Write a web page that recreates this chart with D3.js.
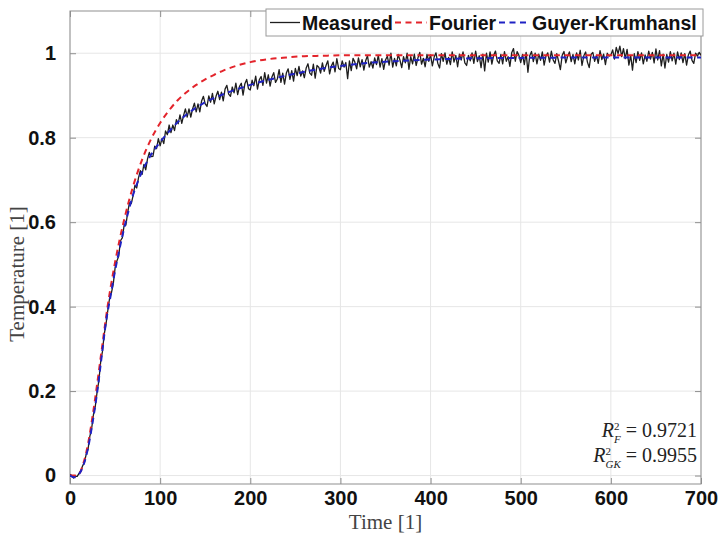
<!DOCTYPE html>
<html>
<head>
<meta charset="utf-8">
<script src="https://cdn.jsdelivr.net/npm/d3@7/dist/d3.min.js"></script>
<style>
  html, body { margin: 0; padding: 0; background: #fff; }
  svg { display: block; }
</style>
</head>
<body>
<div id="chart"></div>
<script>
// ---- data -------------------------------------------------------------
// Measured temperature, sampled every 2 time units from 0 to 700
const sampleStep = 2;
const measuredValues = [
  0.003, 0.000, -0.006, -0.002, -0.002, 0.005, 0.011, 0.023, 0.031, 0.051,
  0.062, 0.093, 0.111, 0.144, 0.163, 0.197, 0.224, 0.269, 0.294, 0.335,
  0.359, 0.392, 0.421, 0.433, 0.454, 0.491, 0.508, 0.519, 0.556, 0.563,
  0.592, 0.593, 0.623, 0.646, 0.644, 0.663, 0.687, 0.681, 0.705, 0.722,
  0.713, 0.737, 0.724, 0.750, 0.765, 0.755, 0.756, 0.780, 0.774, 0.798,
  0.781, 0.798, 0.786, 0.816, 0.807, 0.830, 0.812, 0.830, 0.817, 0.843,
  0.833, 0.854, 0.834, 0.853, 0.868, 0.849, 0.868, 0.849, 0.868, 0.882,
  0.861, 0.880, 0.861, 0.887, 0.898, 0.880, 0.874, 0.899, 0.884, 0.905,
  0.880, 0.898, 0.910, 0.890, 0.908, 0.887, 0.915, 0.924, 0.903, 0.898,
  0.920, 0.906, 0.929, 0.902, 0.921, 0.929, 0.901, 0.928, 0.938, 0.916,
  0.913, 0.936, 0.923, 0.946, 0.915, 0.937, 0.945, 0.924, 0.954, 0.929,
  0.949, 0.922, 0.944, 0.954, 0.931, 0.939, 0.961, 0.931, 0.953, 0.927,
  0.953, 0.963, 0.938, 0.959, 0.934, 0.964, 0.947, 0.969, 0.946, 0.958,
  0.942, 0.965, 0.975, 0.953, 0.948, 0.974, 0.941, 0.971, 0.967, 0.953,
  0.977, 0.957, 0.971, 0.982, 0.951, 0.970, 0.979, 0.956, 0.987, 0.964,
  0.961, 0.982, 0.967, 0.978, 0.940, 0.982, 0.959, 0.988, 0.979, 0.963,
  0.989, 0.968, 0.985, 0.960, 0.982, 0.994, 0.967, 0.980, 0.965, 0.989,
  0.973, 0.995, 0.967, 0.987, 0.962, 0.984, 0.993, 0.972, 1.000, 0.967,
  0.988, 0.970, 0.997, 0.984, 0.966, 0.992, 0.977, 1.000, 0.962, 0.992,
  0.975, 0.998, 0.971, 0.989, 1.002, 0.974, 0.988, 0.968, 0.997, 0.981,
  0.996, 0.970, 0.991, 1.001, 0.976, 0.965, 0.999, 0.981, 1.001, 0.974,
  0.990, 0.973, 1.003, 0.979, 0.995, 0.968, 0.998, 0.984, 1.003, 0.977,
  0.971, 0.995, 0.982, 1.001, 0.976, 1.005, 0.980, 0.994, 0.966, 0.998,
  0.958, 1.000, 0.979, 1.003, 0.974, 0.995, 1.005, 0.982, 0.976, 0.997,
  0.975, 1.004, 0.981, 0.992, 0.969, 1.001, 1.011, 0.981, 1.004, 0.995,
  0.978, 0.997, 0.973, 1.002, 0.955, 0.994, 1.004, 0.980, 1.000, 0.975,
  0.998, 0.983, 1.003, 0.972, 0.993, 1.001, 0.979, 1.005, 0.984, 0.976,
  0.999, 0.981, 0.961, 0.995, 1.004, 0.977, 0.992, 1.003, 0.980, 0.997,
  0.975, 1.001, 0.984, 1.007, 0.971, 0.994, 1.003, 0.979, 0.966, 0.997,
  1.002, 0.981, 0.995, 0.976, 1.006, 0.985, 0.998, 0.973, 1.000, 0.993,
  0.996, 1.008, 0.986, 1.014, 0.999, 1.017, 0.992, 1.011, 0.987, 1.009,
  0.972, 0.995, 0.960, 0.999, 0.978, 1.004, 0.983, 1.001, 0.975, 0.996,
  0.981, 1.005, 0.986, 1.002, 0.977, 1.010, 0.984, 1.006, 0.970, 0.998,
  0.965, 0.997, 0.979, 1.004, 0.982, 1.000, 0.974, 1.003, 0.985, 1.001,
  0.978, 0.999, 0.972, 0.996, 1.005, 0.983, 0.976, 1.000, 0.993, 1.002, 0.995
];
const measuredTime = d3.range(0, measuredValues.length).map(i => i * sampleStep);

// Fourier model fit
const fourierTime = [0, 5, 10, 15, 20, 25, 30, 35, 40, 45, 50, 55, 60, 70, 80, 90, 100,
  110, 120, 130, 140, 150, 160, 170, 180, 200, 220, 240, 260, 280, 300, 400, 500, 600, 700];
const fourierValues = [0, 0, 0.004, 0.03, 0.075, 0.14, 0.215, 0.295, 0.375, 0.445, 0.505,
  0.558, 0.605, 0.685, 0.748, 0.797, 0.835, 0.865, 0.890, 0.909, 0.925, 0.938, 0.949,
  0.959, 0.967, 0.979, 0.986, 0.990, 0.993, 0.994, 0.995, 0.995, 0.995, 0.995, 0.995];

// Guyer-Krumhansl model fit
const gkTime = [0, 5, 10, 15, 20, 25, 30, 35, 40, 45, 50, 55, 60, 65, 70, 75, 80, 90, 100,
  110, 120, 130, 140, 150, 160, 170, 180, 190, 200, 220, 240, 260, 280, 300, 330, 360,
  400, 450, 500, 600, 700];
const gkValues = [0, -0.004, 0.003, 0.025, 0.065, 0.125, 0.195, 0.28, 0.365, 0.425, 0.485,
  0.537, 0.585, 0.627, 0.665, 0.695, 0.72, 0.760, 0.790, 0.815, 0.838, 0.856, 0.871,
  0.884, 0.894, 0.903, 0.911, 0.918, 0.925, 0.937, 0.947, 0.956, 0.964, 0.970, 0.977,
  0.981, 0.985, 0.988, 0.989, 0.990, 0.990];

const xTicks = [0, 100, 200, 300, 400, 500, 600, 700];
const yTicks = [0, 0.2, 0.4, 0.6, 0.8, 1];
const seriesNames = ["Measured", "Fourier", "Guyer-Krumhansl"];
const fitLabels = [
  { sub: "F", value: "0.9721" },
  { sub: "GK", value: "0.9955" }
];

// ---- layout -----------------------------------------------------------
const W = 719, H = 536;
const plot = { left: 70, right: 701, top: 11, bottom: 484 };

const svg = d3.select("#chart").append("svg")
  .attr("width", W).attr("height", H);

const x = d3.scaleLinear().domain([0, 700]).range([plot.left, plot.right]);
const y = d3.scaleLinear().domain([-0.02, 1.1]).range([plot.bottom, plot.top]);

const colors = { measured: "#1e1e1e", fourier: "#e3242b", gk: "#1f22c4" };
const axisColor = "#8f8f8f";
const tickFont = "'Liberation Sans', Arial, Helvetica, sans-serif";
const serifFont = "'Liberation Serif', 'DejaVu Serif', serif";

// grid
const grid = svg.append("g");
grid.selectAll("line.gx").data(xTicks).join("line")
  .attr("x1", d => x(d)).attr("x2", d => x(d))
  .attr("y1", plot.top).attr("y2", plot.bottom)
  .attr("stroke", "#e6e6e6").attr("stroke-width", 1);
grid.selectAll("line.gy").data(yTicks).join("line")
  .attr("y1", d => y(d)).attr("y2", d => y(d))
  .attr("x1", plot.left).attr("x2", plot.right)
  .attr("stroke", "#e6e6e6").attr("stroke-width", 1);

// axes (ticks point inward, mirrored on the top and right edges)
const tickLen = 6;
function styleAxis(g) {
  g.select(".domain").remove();
  g.selectAll(".tick line").attr("stroke", axisColor);
  g.selectAll(".tick text")
    .attr("font-family", tickFont).attr("font-weight", "bold")
    .attr("font-size", 20).attr("fill", "#111");
}
svg.append("g").attr("transform", `translate(0,${plot.bottom})`)
  .call(d3.axisBottom(x).tickValues(xTicks).tickSizeInner(-tickLen).tickPadding(7)
    .tickFormat(d3.format("d")))
  .call(styleAxis);
svg.append("g").attr("transform", `translate(0,${plot.top})`)
  .call(d3.axisTop(x).tickValues(xTicks).tickSizeInner(-tickLen).tickFormat(""))
  .call(styleAxis);
svg.append("g").attr("transform", `translate(${plot.left},0)`)
  .call(d3.axisLeft(y).tickValues(yTicks).tickSizeInner(-tickLen).tickPadding(14)
    .tickFormat(d => d === 0 || d === 1 ? String(d) : d3.format(".1f")(d)))
  .call(styleAxis);
svg.append("g").attr("transform", `translate(${plot.right},0)`)
  .call(d3.axisRight(y).tickValues(yTicks).tickSizeInner(-tickLen).tickFormat(""))
  .call(styleAxis);

svg.append("rect")
  .attr("x", plot.left).attr("y", plot.top)
  .attr("width", plot.right - plot.left).attr("height", plot.bottom - plot.top)
  .attr("fill", "none").attr("stroke", axisColor).attr("stroke-width", 1);

// series
svg.append("clipPath").attr("id", "plot-clip").append("rect")
  .attr("x", plot.left).attr("y", plot.top)
  .attr("width", plot.right - plot.left).attr("height", plot.bottom - plot.top);
const lines = svg.append("g").attr("clip-path", "url(#plot-clip)");

const rawLine = d3.line().x(d => x(d[0])).y(d => y(d[1]));
const smoothLine = d3.line().x(d => x(d[0])).y(d => y(d[1])).curve(d3.curveMonotoneX);

lines.append("path")
  .datum(d3.zip(measuredTime, measuredValues))
  .attr("d", rawLine)
  .attr("fill", "none").attr("stroke", colors.measured)
  .attr("stroke-width", 1.3).attr("stroke-linejoin", "round");

lines.append("path")
  .datum(d3.zip(fourierTime, fourierValues))
  .attr("d", smoothLine)
  .attr("fill", "none").attr("stroke", colors.fourier)
  .attr("stroke-width", 2).attr("stroke-dasharray", "6,4.5");

lines.append("path")
  .datum(d3.zip(gkTime, gkValues))
  .attr("d", smoothLine)
  .attr("fill", "none").attr("stroke", colors.gk)
  .attr("stroke-width", 2).attr("stroke-dasharray", "6,4.5");

// axis labels
svg.append("text")
  .attr("x", (plot.left + plot.right) / 2).attr("y", 529)
  .attr("text-anchor", "middle")
  .attr("font-family", serifFont).attr("font-size", 21).attr("fill", "#444")
  .text("Time [1]");
svg.append("text")
  .attr("transform", `translate(24,274) rotate(-90)`)
  .attr("text-anchor", "middle")
  .attr("font-family", serifFont).attr("font-size", 21).attr("fill", "#444")
  .text("Temperature [1]");

// legend
const legend = svg.append("g");
legend.append("rect")
  .attr("x", 266).attr("y", 9).attr("width", 437).attr("height", 27)
  .attr("fill", "#fff").attr("stroke", "#9a9a9a").attr("stroke-width", 1);
const legendItems = [
  { name: seriesNames[0], color: colors.measured, dash: null, width: 1.3, x0: 270, x1: 300, tx: 302 },
  { name: seriesNames[1], color: colors.fourier, dash: "6,4.5", width: 2, x0: 395, x1: 427, tx: 429 },
  { name: seriesNames[2], color: colors.gk, dash: "6,4.5", width: 2, x0: 499, x1: 530, tx: 532 }
];
legendItems.forEach(it => {
  legend.append("line")
    .attr("x1", it.x0).attr("x2", it.x1).attr("y1", 22.5).attr("y2", 22.5)
    .attr("stroke", it.color).attr("stroke-width", it.width)
    .attr("stroke-dasharray", it.dash);
  legend.append("text")
    .attr("x", it.tx).attr("y", 29.5)
    .attr("font-family", tickFont).attr("font-weight", "bold")
    .attr("font-size", 19.5).attr("fill", "#111")
    .text(it.name);
});

// goodness-of-fit annotation: R with stacked superscript 2 and subscript
fitLabels.forEach((f, i) => {
  const t = svg.append("text")
    .attr("x", 697).attr("y", 437 + i * 25)
    .attr("text-anchor", "end")
    .attr("font-family", serifFont).attr("font-size", 20).attr("fill", "#222");
  t.append("tspan").attr("font-style", "italic").text("R");
  t.append("tspan").attr("font-size", 11).attr("dy", -7.5).text("2");
  t.append("tspan").attr("font-size", 11).attr("font-style", "italic")
    .attr("dx", -5.5).attr("dy", 13).text(f.sub);
  t.append("tspan").attr("dy", -5.5).text("\u00a0=\u00a0" + f.value);
});
</script>
</body>
</html>
